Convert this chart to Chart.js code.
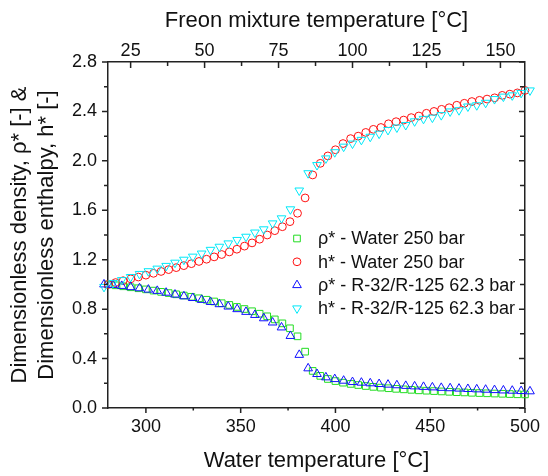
<!DOCTYPE html>
<html><head><meta charset="utf-8">
<script src="https://cdn.jsdelivr.net/npm/chart.js@4.4.1/dist/chart.umd.min.js"></script>
<style>html,body{margin:0;padding:0;background:#fff;}canvas{display:block;}</style>
</head><body>
<canvas id="c" width="548" height="476"></canvas>
<script>
const FONT = '"Liberation Sans", Arial, Helvetica, sans-serif';
const TEXT = '#111111';
const AXIS = '#222222';

// Water at 250 bar (bottom axis, °C)
const waterTemp = [280,284,288,292,296,300,304,308,312,316,320,324,328,332,336,340,344,348,352,356,360,364,368,372,376,380,384,388,392,396,400,404,408,412,416,420,424,428,432,436,440,444,448,452,456,460,464,468,472,476,480,484,488,492,496,500];
const rhoWater = [1.000,0.993,0.985,0.977,0.969,0.960,0.950,0.940,0.930,0.920,0.910,0.900,0.888,0.876,0.862,0.848,0.834,0.818,0.801,0.783,0.763,0.742,0.717,0.685,0.645,0.580,0.456,0.300,0.260,0.235,0.218,0.205,0.195,0.186,0.178,0.171,0.165,0.160,0.155,0.151,0.147,0.143,0.140,0.137,0.134,0.131,0.128,0.126,0.123,0.121,0.119,0.117,0.115,0.113,0.111,0.110];
const hWater = [1.000,1.015,1.030,1.045,1.060,1.075,1.090,1.105,1.120,1.136,1.152,1.168,1.186,1.204,1.223,1.242,1.263,1.285,1.310,1.336,1.366,1.400,1.435,1.467,1.508,1.576,1.700,1.886,1.980,2.040,2.090,2.140,2.180,2.200,2.230,2.255,2.270,2.300,2.317,2.330,2.350,2.363,2.385,2.400,2.417,2.430,2.450,2.466,2.480,2.490,2.500,2.510,2.530,2.540,2.550,2.570];

// R-32/R-125 at 62.3 bar (top axis, °C)
const freonTemp = [16,19,22,25,28,31,34,37,40,43,46,49,52,55,58,61,64,67,70,73,76,79,82,85,88,91,94,97,100,103,106,109,112,115,118,121,124,127,130,133,136,139,142,145,148,151,154,157,160];
const rhoFreon = [1.000,0.995,0.988,0.978,0.969,0.958,0.948,0.933,0.918,0.904,0.890,0.875,0.858,0.840,0.821,0.800,0.778,0.753,0.726,0.692,0.652,0.583,0.430,0.321,0.275,0.248,0.234,0.221,0.210,0.205,0.200,0.194,0.189,0.184,0.179,0.175,0.171,0.167,0.163,0.160,0.157,0.154,0.151,0.148,0.145,0.142,0.140,0.137,0.135];
const hFreon = [0.980,1.012,1.035,1.060,1.085,1.107,1.128,1.150,1.176,1.200,1.225,1.250,1.280,1.305,1.332,1.360,1.386,1.420,1.446,1.494,1.535,1.608,1.760,1.900,1.966,2.020,2.070,2.115,2.140,2.170,2.195,2.220,2.250,2.270,2.290,2.320,2.340,2.350,2.370,2.400,2.410,2.440,2.450,2.470,2.500,2.520,2.530,2.550,2.570];

const seriesLabels = ['ρ* - Water 250 bar','h* - Water 250 bar','ρ* - R-32/R-125 62.3 bar','h* - R-32/R-125 62.3 bar'];

const waterTicks = [300,350,400,450,500];
const waterMinor = [325,375,425,475];
const freonTicks = [25,50,75,100,125,150];
const freonMinor = [37.5,62.5,87.5,112.5,137.5];
const yTicks = [0,0.4,0.8,1.2,1.6,2.0,2.4,2.8];
const yMinor = [0.2,0.6,1.0,1.4,1.8,2.2,2.6];

const GREEN = '#22dd22', RED = '#ff1010', BLUE = '#1010ff', CYAN = '#00e8f8';
const styles = [
  {color: GREEN, pointStyle: 'rect', radius: 4.7, rotation: 0},
  {color: RED, pointStyle: 'circle', radius: 3.9, rotation: 0},
  {color: BLUE, pointStyle: 'triangle', radius: 5, rotation: 0},
  {color: CYAN, pointStyle: 'triangle', radius: 5, rotation: 180}
];

function mk(i, xs, ys, xAxis, order) {
  const s = styles[i];
  return {
    label: seriesLabels[i],
    data: xs.map((x, k) => ({x: x, y: ys[k]})),
    xAxisID: xAxis, yAxisID: 'y',
    showLine: false, clip: false, order: order,
    pointStyle: s.pointStyle, pointRadius: s.radius, pointRotation: s.rotation,
    pointBorderWidth: 1, borderColor: s.color, backgroundColor: 'rgba(0,0,0,0)',
    pointHoverRadius: s.radius
  };
}

const tickPlugin = {
  id: 'originTicks',
  afterDraw(chart) {
    const ctx = chart.ctx, a = chart.chartArea;
    const sx = chart.scales.x, sx2 = chart.scales.x2, sy = chart.scales.y;
    ctx.save();
    ctx.strokeStyle = AXIS; ctx.lineWidth = 1.5;
    ctx.beginPath();
    const seg = (x1, y1, x2, y2) => { ctx.moveTo(x1, y1); ctx.lineTo(x2, y2); };
    waterTicks.forEach(t => { const p = sx.getPixelForValue(t); seg(p, a.bottom, p, a.bottom + 5); });
    waterMinor.forEach(t => { const p = sx.getPixelForValue(t); seg(p, a.bottom - 1, p, a.bottom + 2.5); });
    freonTicks.forEach(t => { const p = sx2.getPixelForValue(t); seg(p, a.top, p, a.top + 6); });
    freonMinor.forEach(t => { const p = sx2.getPixelForValue(t); seg(p, a.top, p, a.top + 4); });
    yTicks.forEach(t => { const p = sy.getPixelForValue(t); seg(a.left - 6, p, a.left, p); seg(a.right - 6, p, a.right, p); });
    yMinor.forEach(t => { const p = sy.getPixelForValue(t); seg(a.left - 4, p, a.left, p); seg(a.right - 5, p, a.right, p); });
    ctx.stroke();
    ctx.restore();
  }
};

function drawMarker(ctx, s, x, y) {
  if (Chart.helpers && Chart.helpers.drawPoint) {
    Chart.helpers.drawPoint(ctx, {pointStyle: s.pointStyle, radius: s.radius, rotation: s.rotation, borderWidth: 1}, x, y);
  }
}

const legendPlugin = {
  id: 'innerLegend',
  afterDraw(chart) {
    const ctx = chart.ctx, a = chart.chartArea;
    const mx = a.left + 189, tx = a.left + 210, y0 = a.top + 176.5, dy = 23.3;
    ctx.save();
    ctx.font = '18px ' + FONT;
    ctx.textBaseline = 'middle'; ctx.textAlign = 'left';
    seriesLabels.forEach((lab, i) => {
      const y = y0 + i * dy;
      ctx.strokeStyle = styles[i].color; ctx.fillStyle = 'rgba(0,0,0,0)'; ctx.lineWidth = 1;
      drawMarker(ctx, styles[i], mx, y);
      ctx.fillStyle = TEXT;
      ctx.fillText(lab, tx, y + 1);
    });
    ctx.restore();
  }
};

const tickFont = {family: FONT, size: 18};
const titleFont = {family: FONT, size: 22};

new Chart(document.getElementById('c'), {
  type: 'scatter',
  data: {
    datasets: [
      mk(0, waterTemp, rhoWater, 'x', 4),
      mk(1, waterTemp, hWater, 'x', 3),
      mk(2, freonTemp, rhoFreon, 'x2', 2),
      mk(3, freonTemp, hFreon, 'x2', 1)
    ]
  },
  options: {
    responsive: false, animation: false, devicePixelRatio: 1,
    layout: {padding: 0},
    plugins: {legend: {display: false}, tooltip: {enabled: false}},
    events: [],
    scales: {
      x: {
        type: 'linear', position: 'bottom', min: 280, max: 500,
        afterBuildTicks: s => { s.ticks = waterTicks.map(v => ({value: v})); },
        ticks: {font: tickFont, color: TEXT, padding: 8, maxRotation: 0, autoSkip: false},
        grid: {display: false, drawTicks: false},
        border: {display: true, color: AXIS, width: 1.5},
        title: {display: true, text: 'Water temperature [°C]', font: titleFont, color: TEXT, padding: {top: 0, bottom: 2}},
        afterFit: s => { s.height = 68; }
      },
      x2: {
        type: 'linear', position: 'top', min: 17.35, max: 158.3,
        afterBuildTicks: s => { s.ticks = freonTicks.map(v => ({value: v})); },
        ticks: {font: tickFont, color: TEXT, padding: 0, maxRotation: 0, autoSkip: false},
        grid: {display: false, drawTicks: false},
        border: {display: true, color: AXIS, width: 1.5},
        title: {display: true, text: 'Freon mixture temperature [°C]', font: titleFont, color: TEXT, padding: {top: 8, bottom: 0}},
        afterFit: s => { s.height = 62; }
      },
      y: {
        type: 'linear', position: 'left', min: 0, max: 2.8,
        afterBuildTicks: s => { s.ticks = yTicks.map(v => ({value: v})); },
        ticks: {font: tickFont, color: TEXT, padding: 11, callback: v => Number(v).toFixed(1)},
        grid: {display: false, drawTicks: false},
        border: {display: true, color: AXIS, width: 1.5},
        title: {display: true, text: ['Dimensionless density, ρ* [-] &', 'Dimensionless enthalpy, h* [-]'], font: titleFont, color: TEXT, padding: {top: 7, bottom: 0}},
        afterFit: s => { s.width = 108; }
      },
      y2: {
        type: 'linear', position: 'right', min: 0, max: 2.8,
        ticks: {display: false},
        grid: {display: false, drawTicks: false},
        border: {display: true, color: AXIS, width: 1.5},
        afterFit: s => { s.width = 16; }
      }
    }
  },
  plugins: [tickPlugin, legendPlugin]
});
</script>
</body></html>
